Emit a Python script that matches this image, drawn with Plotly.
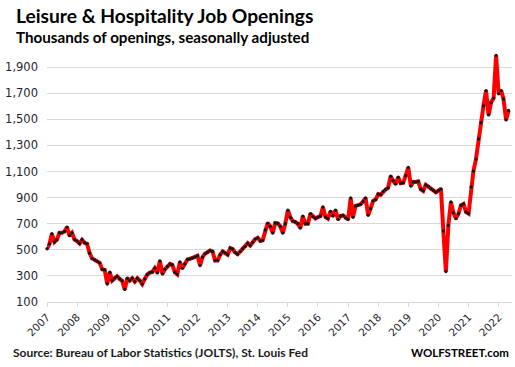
import pandas as pd
import plotly.graph_objects as go

# Monthly job openings, leisure & hospitality (thousands, SA), Jan 2007 - May 2022
y2007 = [508, 546, 623, 559, 577, 630, 630, 640, 674, 608, 630, 578]
y2008 = [567, 548, 577, 554, 546, 474, 434, 423, 412, 400, 350, 346]
y2009 = [238, 328, 264, 284, 297, 277, 262, 196, 282, 264, 282, 256]
y2010 = [282, 264, 238, 277, 310, 325, 330, 359, 323, 415, 315, 350]
y2011 = [372, 392, 385, 328, 312, 407, 358, 392, 426, 431, 437, 444]
y2012 = [454, 379, 444, 469, 480, 495, 487, 418, 418, 462, 487, 477]
y2013 = [462, 513, 506, 480, 466, 486, 508, 526, 551, 533, 557, 582]
y2014 = [592, 568, 572, 652, 705, 680, 628, 705, 702, 680, 628, 700]
y2015 = [803, 748, 720, 713, 700, 667, 758, 700, 700, 777, 754, 740]
y2016 = [751, 759, 828, 751, 738, 795, 759, 803, 733, 759, 764, 744]
y2017 = [733, 897, 749, 836, 841, 848, 870, 897, 764, 815, 875, 885]
y2018 = [927, 922, 947, 962, 975, 1064, 1030, 1004, 1056, 1010, 1013, 1068]
y2019 = [1131, 988, 1020, 1020, 1024, 964, 951, 998, 986, 968, 955, 940]
y2020 = [955, 966, 644, 333, 687, 867, 785, 738, 777, 841, 852, 790]
y2021 = [777, 982, 1103, 1195, 1349, 1474, 1603, 1720, 1533, 1628, 1662, 1990]
y2022 = [1695, 1720, 1656, 1495, 1567]

openings = (y2007 + y2008 + y2009 + y2010 + y2011 + y2012 + y2013 + y2014 +
            y2015 + y2016 + y2017 + y2018 + y2019 + y2020 + y2021 + y2022)
months = pd.date_range("2007-01-01", periods=len(openings), freq="MS")

y_ticks = list(range(100, 2000, 200))

title_text = "Leisure & Hospitality Job Openings"
subtitle_text = "Thousands of openings, seasonally adjusted"
source_text = "Source: Bureau of Labor Statistics (JOLTS), St. Louis Fed"
brand_text = "WOLFSTREET.com"

W, H = 515, 367
L, R, T, B = 47, 3, 54, 65
pw, ph = W - L - R, H - T - B


def px(x):
    return (x - L) / pw


def py(y):
    return (H - B - y) / ph


fig = go.Figure()
fig.add_trace(go.Scatter(
    x=months, y=openings, mode="lines+markers",
    line=dict(color="#ff0000", width=4),
    marker=dict(color="#151515", size=3.3),
    cliponaxis=False, hoverinfo="skip", showlegend=False,
))

fig.update_layout(
    width=W, height=H,
    margin=dict(l=L, r=R, t=T, b=B, pad=0),
    paper_bgcolor="white", plot_bgcolor="white",
    font=dict(family="DejaVu Sans", size=11, color="#1f1f2e"),
    xaxis=dict(
        type="date", range=["2007-01-01", "2022-06-12"],
        tick0="2007-01-01", dtick="M12", tickformat="%Y", tickangle=-45,
        showgrid=False, showline=True, linecolor="#d9d9d9", linewidth=1,
        ticks="outside", ticklen=4, tickcolor="#d9d9d9",
        tickfont=dict(family="DejaVu Sans", size=10.5, color="#1f1f2e"),
        zeroline=False,
    ),
    yaxis=dict(
        range=[100, 2000], tickvals=y_ticks, tickformat=",",
        showgrid=True, gridcolor="#d9d9d9", gridwidth=1,
        ticks="", ticklabelstandoff=8, zeroline=False, showline=False,
        tickfont=dict(family="DejaVu Sans", size=11.5, color="#1f1f2e"),
    ),
    annotations=[
        dict(text="<b>" + title_text + "</b>", x=px(14), y=py(16), xref="paper", yref="paper",
             xanchor="left", yanchor="middle", showarrow=False,
             font=dict(family="Lato", size=19.2, color="#000000")),
        dict(text="<b>" + subtitle_text + "</b>", x=px(14), y=py(37), xref="paper", yref="paper",
             xanchor="left", yanchor="middle", showarrow=False,
             font=dict(family="Lato", size=15.2, color="#000000")),
        dict(text="<b>" + source_text + "</b>", x=px(11), y=py(352), xref="paper", yref="paper",
             xanchor="left", yanchor="middle", showarrow=False,
             font=dict(family="Lato", size=12, color="#1a1a1a")),
        dict(text="<b>" + brand_text + "</b>", x=px(511), y=py(352), xref="paper", yref="paper",
             xanchor="right", yanchor="middle", showarrow=False,
             font=dict(family="Lato", size=11.5, color="#000000")),
    ],
)

fig.write_html("out.html", config={"displayModeBar": False},
               post_script="document.body.style.margin='0';")
